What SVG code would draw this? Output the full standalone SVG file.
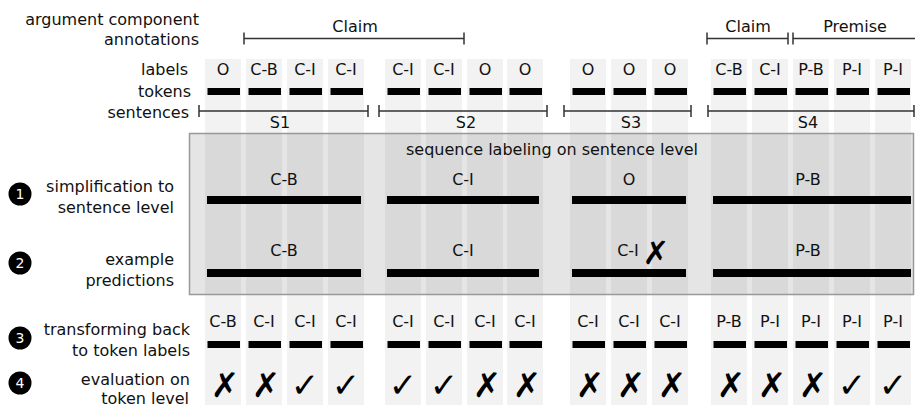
<svg xmlns="http://www.w3.org/2000/svg" width="915" height="405" viewBox="0 0 915 405">
<style>
text{font-family:"DejaVu Sans","Liberation Sans",sans-serif;font-size:16px;fill:#111}
.r{text-anchor:end}
.c{text-anchor:middle}
.col{fill:#f2f2f2}
.tb{fill:#000}
.br{stroke:#333;stroke-width:1.5;fill:none}
.num{fill:#fff;font-size:14px;text-anchor:middle}
.mk{font-size:34px;text-anchor:middle;fill:#000}
</style>
<rect width="915" height="405" fill="#fff"/>
<g id="columns">
<rect class="col" x="205" y="59" width="36" height="346"/>
<rect class="col" x="246" y="59" width="36" height="346"/>
<rect class="col" x="287" y="59" width="36" height="346"/>
<rect class="col" x="328" y="59" width="36" height="346"/>
<rect class="col" x="385" y="59" width="36" height="346"/>
<rect class="col" x="426" y="59" width="36" height="346"/>
<rect class="col" x="467" y="59" width="36" height="346"/>
<rect class="col" x="507" y="59" width="36" height="346"/>
<rect class="col" x="570" y="59" width="36" height="346"/>
<rect class="col" x="611" y="59" width="36" height="346"/>
<rect class="col" x="652" y="59" width="36" height="346"/>
<rect class="col" x="711" y="59" width="36" height="346"/>
<rect class="col" x="752" y="59" width="36" height="346"/>
<rect class="col" x="793" y="59" width="36" height="346"/>
<rect class="col" x="834" y="59" width="36" height="346"/>
<rect class="col" x="875" y="59" width="36" height="346"/>
</g>
<g id="row-labels">
<text class="r" x="199" y="25">argument component</text>
<text class="r" x="199" y="45">annotations</text>
<text class="r" x="188" y="75">labels</text>
<text class="r" x="191" y="97">tokens</text>
<text class="r" x="189" y="118">sentences</text>
<text class="r" x="174" y="192">simplification to</text>
<text class="r" x="174" y="213">sentence level</text>
<text class="r" x="174" y="265">example</text>
<text class="r" x="174" y="286">predictions</text>
<text class="r" x="190" y="335">transforming back</text>
<text class="r" x="190" y="356">to token labels</text>
<text class="r" x="190" y="385">evaluation on</text>
<text class="r" x="189" y="404">token level</text>
</g>
<g id="step-numbers">
<circle cx="20" cy="194" r="11.5" fill="#000"/><text class="num" x="20" y="199">1</text>
<circle cx="20" cy="263" r="11.5" fill="#000"/><text class="num" x="20" y="268">2</text>
<circle cx="20" cy="338" r="11.5" fill="#000"/><text class="num" x="20" y="343">3</text>
<circle cx="20" cy="383" r="11.5" fill="#000"/><text class="num" x="20" y="388">4</text>
</g>
<g id="connectors">
<path class="br" d="M244 38.5H464M244 32.5V44.5M464 32.5V44.5"/>
<path class="br" d="M707 38.5H788M707 32.5V44.5M788 32.5V44.5"/>
<path class="br" d="M793 38.5H915M793 32.5V44.5"/>
<path class="br" d="M199 111H368M199 105V117M368 105V117"/>
<path class="br" d="M379 111H547M379 105V117M547 105V117"/>
<path class="br" d="M564 111H691M564 105V117M691 105V117"/>
<path class="br" d="M708 111H914M708 105V117M914 105V117"/>
</g>
<g id="annotations">
<text class="c" x="355" y="32">Claim</text>
<text class="c" x="748" y="32">Claim</text>
<text class="c" x="855" y="32">Premise</text>
</g>
<g id="labels">
<text class="c" x="223" y="75">O</text>
<text class="c" x="264" y="75">C-B</text>
<text class="c" x="305" y="75">C-I</text>
<text class="c" x="346" y="75">C-I</text>
<text class="c" x="403" y="75">C-I</text>
<text class="c" x="444" y="75">C-I</text>
<text class="c" x="485" y="75">O</text>
<text class="c" x="525" y="75">O</text>
<text class="c" x="588" y="75">O</text>
<text class="c" x="629" y="75">O</text>
<text class="c" x="670" y="75">O</text>
<text class="c" x="729" y="75">C-B</text>
<text class="c" x="770" y="75">C-I</text>
<text class="c" x="811" y="75">P-B</text>
<text class="c" x="852" y="75">P-I</text>
<text class="c" x="893" y="75">P-I</text>
</g>
<g id="tokens">
<rect class="tb" x="207.5" y="88" width="32.5" height="7"/>
<rect class="tb" x="248.5" y="88" width="32.5" height="7"/>
<rect class="tb" x="289.5" y="88" width="32.5" height="7"/>
<rect class="tb" x="330.5" y="88" width="32.5" height="7"/>
<rect class="tb" x="387.5" y="88" width="32.5" height="7"/>
<rect class="tb" x="428.5" y="88" width="32.5" height="7"/>
<rect class="tb" x="469.5" y="88" width="32.5" height="7"/>
<rect class="tb" x="509.5" y="88" width="32.5" height="7"/>
<rect class="tb" x="572.5" y="88" width="32.5" height="7"/>
<rect class="tb" x="613.5" y="88" width="32.5" height="7"/>
<rect class="tb" x="654.5" y="88" width="32.5" height="7"/>
<rect class="tb" x="713.5" y="88" width="32.5" height="7"/>
<rect class="tb" x="754.5" y="88" width="32.5" height="7"/>
<rect class="tb" x="795.5" y="88" width="32.5" height="7"/>
<rect class="tb" x="836.5" y="88" width="32.5" height="7"/>
<rect class="tb" x="877.5" y="88" width="32.5" height="7"/>
</g>
<g id="sentence-names">
<text class="c" x="280" y="128">S1</text>
<text class="c" x="466" y="128">S2</text>
<text class="c" x="631" y="128">S3</text>
<text class="c" x="808" y="128">S4</text>
</g>
<g id="sentence-level-box">
<rect x="189.5" y="133.5" width="724" height="161" fill="#000" fill-opacity="0.1" stroke="#999" stroke-width="1.5"/>
<text class="c" x="552" y="155">sequence labeling on sentence level</text>
<text class="c" x="284" y="185">C-B</text>
<text class="c" x="463" y="185">C-I</text>
<text class="c" x="629" y="185">O</text>
<text class="c" x="808" y="185">P-B</text>
<rect class="tb" x="207" y="196" width="154" height="8"/>
<rect class="tb" x="387" y="196" width="152" height="8"/>
<rect class="tb" x="572" y="196" width="114" height="8"/>
<rect class="tb" x="713" y="196" width="198" height="8"/>
<text class="c" x="284" y="256">C-B</text>
<text class="c" x="463" y="256">C-I</text>
<text class="c" x="628" y="256">C-I</text>
<text class="mk" x="656" y="264" style="font-size:32px">✗</text>
<text class="c" x="808" y="256">P-B</text>
<rect class="tb" x="207" y="269" width="154" height="8"/>
<rect class="tb" x="387" y="269" width="152" height="8"/>
<rect class="tb" x="572" y="269" width="114" height="8"/>
<rect class="tb" x="713" y="269" width="198" height="8"/>
</g>
<g id="predicted-labels">
<text class="c" x="223" y="327">C-B</text>
<text class="c" x="264" y="327">C-I</text>
<text class="c" x="305" y="327">C-I</text>
<text class="c" x="346" y="327">C-I</text>
<text class="c" x="403" y="327">C-I</text>
<text class="c" x="444" y="327">C-I</text>
<text class="c" x="485" y="327">C-I</text>
<text class="c" x="525" y="327">C-I</text>
<text class="c" x="588" y="327">C-I</text>
<text class="c" x="629" y="327">C-I</text>
<text class="c" x="670" y="327">C-I</text>
<text class="c" x="729" y="327">P-B</text>
<text class="c" x="770" y="327">P-I</text>
<text class="c" x="811" y="327">P-I</text>
<text class="c" x="852" y="327">P-I</text>
<text class="c" x="893" y="327">P-I</text>
</g>
<g id="predicted-tokens">
<rect class="tb" x="207.5" y="341" width="32.5" height="7"/>
<rect class="tb" x="248.5" y="341" width="32.5" height="7"/>
<rect class="tb" x="289.5" y="341" width="32.5" height="7"/>
<rect class="tb" x="330.5" y="341" width="32.5" height="7"/>
<rect class="tb" x="387.5" y="341" width="32.5" height="7"/>
<rect class="tb" x="428.5" y="341" width="32.5" height="7"/>
<rect class="tb" x="469.5" y="341" width="32.5" height="7"/>
<rect class="tb" x="509.5" y="341" width="32.5" height="7"/>
<rect class="tb" x="572.5" y="341" width="32.5" height="7"/>
<rect class="tb" x="613.5" y="341" width="32.5" height="7"/>
<rect class="tb" x="654.5" y="341" width="32.5" height="7"/>
<rect class="tb" x="713.5" y="341" width="32.5" height="7"/>
<rect class="tb" x="754.5" y="341" width="32.5" height="7"/>
<rect class="tb" x="795.5" y="341" width="32.5" height="7"/>
<rect class="tb" x="836.5" y="341" width="32.5" height="7"/>
<rect class="tb" x="877.5" y="341" width="32.5" height="7"/>
</g>
<g id="evaluation">
<text class="mk" x="225" y="397">✗</text>
<text class="mk" x="266" y="397">✗</text>
<text class="mk" x="305" y="397">✓</text>
<text class="mk" x="346" y="397">✓</text>
<text class="mk" x="403" y="397">✓</text>
<text class="mk" x="444" y="397">✓</text>
<text class="mk" x="487" y="397">✗</text>
<text class="mk" x="527" y="397">✗</text>
<text class="mk" x="590" y="397">✗</text>
<text class="mk" x="631" y="397">✗</text>
<text class="mk" x="672" y="397">✗</text>
<text class="mk" x="731" y="397">✗</text>
<text class="mk" x="772" y="397">✗</text>
<text class="mk" x="813" y="397">✗</text>
<text class="mk" x="852" y="397">✓</text>
<text class="mk" x="893" y="397">✓</text>
</g>
</svg>
